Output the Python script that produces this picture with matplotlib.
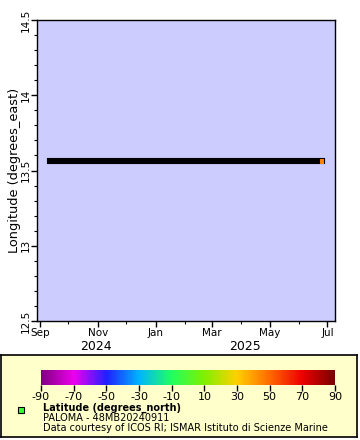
"""
PALOMA mooring track: longitude over time, points coloured by latitude.
"""

import matplotlib
matplotlib.use("Agg")
import matplotlib.dates as mdates
import matplotlib.pyplot as plt
import pandas as pd
from matplotlib.colors import LinearSegmentedColormap, Normalize
from matplotlib.transforms import blended_transform_factory

plt.rcParams["axes.unicode_minus"] = False

# --- Data ---------------------------------------------------------------

obs_dates = pd.to_datetime(["2024-09-12", "2025-06-25"])
obs_lon = [13.56, 13.56]
obs_lat = [45.62, 45.62]

x_range = pd.to_datetime(["2024-08-29", "2025-07-09"])
y_range = [12.5, 14.5]
y_ticks = [12.5, 13, 13.5, 14, 14.5]
cbar_ticks = [-90, -70, -50, -30, -10, 10, 30, 50, 70, 90]
year_labels = ["2024", "2025"]

title_text = "Latitude (degrees_north)"
dataset_text = "PALOMA - 48MB20240911"
credit_text = "Data courtesy of ICOS RI; ISMAR Istituto di Scienze Marine"

# colour stops of the latitude palette
cmap_colors = ["#800080", "#ee00ee", "#2020ff", "#00b4ff", "#20ff60",
               "#80f000", "#ffd000", "#ff6a00", "#ee0000", "#7a0000"]

W, H = 360, 440


def frac(x0, y0, x1, y1):
    """pixel box -> figure fraction rect"""
    return [x0 / W, 1 - y1 / H, (x1 - x0) / W, (y1 - y0) / H]


cmap = LinearSegmentedColormap.from_list("lat", cmap_colors)
norm = Normalize(-90, 90)

fig = plt.figure(figsize=(W / 100, H / 100), dpi=100)

# --- Main plot ----------------------------------------------------------

ax = fig.add_axes(frac(37, 20, 335, 321))
ax.set_facecolor("#ccccff")
ax.plot(obs_dates, obs_lon, color="black", lw=4.4, solid_capstyle="projecting", zorder=2)
ax.scatter(obs_dates[-1:], obs_lon[-1:], c=obs_lat[-1:], cmap=cmap, norm=norm,
           marker="s", s=9, edgecolors="none", zorder=3)

ax.set_xlim(x_range[0], x_range[1])
ax.set_ylim(*y_range)
ax.set_yticks(y_ticks)
ax.set_yticklabels([f"{v:g}" for v in y_ticks], rotation=90, va="center", fontsize=7.5)
ax.yaxis.set_minor_locator(plt.MultipleLocator(0.1))
ax.xaxis.set_major_locator(mdates.MonthLocator(bymonth=[1, 3, 5, 7, 9, 11]))
ax.xaxis.set_major_formatter(mdates.DateFormatter("%b"))
ax.xaxis.set_minor_locator(mdates.MonthLocator())
ax.tick_params(axis="both", which="major", length=4, width=1, labelsize=7.5, pad=1)
ax.tick_params(axis="y", which="major", pad=0.5)
ax.tick_params(axis="both", which="minor", length=2.5, width=0.8)
ax.set_ylabel("Longitude (degrees_east)", fontsize=9.3, labelpad=0)
for s in ax.spines.values():
    s.set_linewidth(1)

# year labels centred on each year's part of the axis
trans = blended_transform_factory(ax.transData, ax.transAxes)
x0, x1 = ax.get_xlim()
jan = mdates.date2num(pd.Timestamp("2025-01-01"))
for label, xc in zip(year_labels, [(x0 + jan) / 2, (jan + x1) / 2]):
    ax.text(xc, -0.085, label, transform=trans, ha="center", va="center", fontsize=9)

# --- Legend panel ---------------------------------------------------------

box = fig.add_axes(frac(1, 355, 357, 437))
box.set_facecolor("#ffffcc")
box.set_xticks([])
box.set_yticks([])
for s in box.spines.values():
    s.set_linewidth(1.2)

cax = fig.add_axes(frac(41, 370, 335, 385))
cb = fig.colorbar(plt.cm.ScalarMappable(norm=norm, cmap=cmap), cax=cax,
                  orientation="horizontal", ticks=cbar_ticks)
cb.outline.set_visible(False)
cax.tick_params(length=4, width=1, labelsize=8, pad=1)

fig.patches.append(plt.Rectangle((18 / W, 1 - 413 / H), 6 / W, 6 / H,
                                 transform=fig.transFigure, facecolor="#33ff33",
                                 edgecolor="black", lw=0.8))
fig.text(43 / W, 1 - 408 / H, title_text, fontsize=7, weight="bold", va="center")
fig.text(43 / W, 1 - 418 / H, dataset_text, fontsize=7, va="center")
fig.text(43 / W, 1 - 428 / H, credit_text, fontsize=7, va="center")

fig.savefig("out.png", dpi=100)
